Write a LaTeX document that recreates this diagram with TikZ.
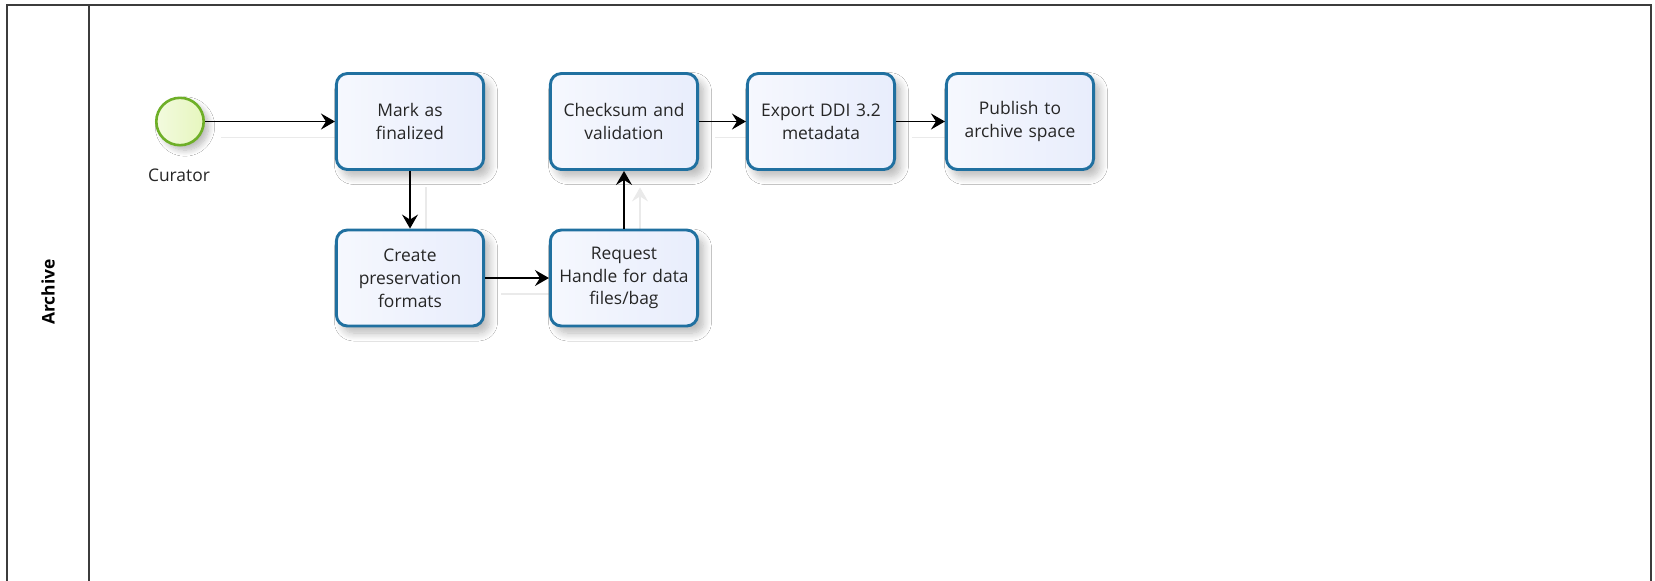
\documentclass[tikz,border=0pt]{standalone}
\usepackage{fontspec}
\setmainfont{Open Sans}
\usetikzlibrary{arrows.meta,shadows.blur}

\definecolor{taskline}{RGB}{32,112,160}
\definecolor{taskfill}{RGB}{232,237,252}
\definecolor{startline}{RGB}{110,175,40}
\definecolor{startfill}{RGB}{230,246,190}
\definecolor{poolline}{RGB}{60,60,60}
\definecolor{ghost}{RGB}{234,234,234}

\begin{document}
\begin{tikzpicture}[x=0.5pt,y=-0.5pt,
  label/.style={font=\fontsize{8.7}{11.4}\selectfont, text=black!85},
  task/.style={label, rectangle, rounded corners=5.5pt, draw=taskline,
    line width=1.45pt, minimum width=73.6pt, minimum height=48pt,
    align=center, text width=70pt, inner sep=0pt,
    left color=white!60!taskfill, right color=taskfill,
    blur shadow={shadow xshift=3pt, shadow yshift=-3.5pt,
      shadow blur radius=4pt, shadow blur steps=10, shadow opacity=28}},
  startevent/.style={circle, draw=startline, line width=1.3pt,
    minimum size=23.7pt, inner sep=0pt,
    left color=white!50!startfill, right color=startfill,
    blur shadow={shadow xshift=2.5pt, shadow yshift=-2.5pt,
      shadow blur radius=3pt, shadow blur steps=10, shadow opacity=28}},
  frame/.style={minimum width=75pt, minimum height=49.5pt, inner sep=0pt},
  flowtip/.style={-{Stealth[length=7pt,width=8pt,inset=2.5pt]}},
  flow/.style={flowtip, draw=black, line width=0.8pt},
  ghostflow/.style={flowtip, draw=ghost, line width=0.8pt,
    transform canvas={shift={(8pt,-8pt)}}},
  pool/.style={draw=poolline, line width=1pt}
]
\useasboundingbox (0,0) rectangle (1655,580);
\fill[white] (0,0) rectangle (1655,580);

% pool and lane
\draw[pool] (7,600) -- (7,5) -- (1651,5) -- (1651,600);
\draw[pool] (89,5) -- (89,600);
\node[rotate=90, font=\bfseries\fontsize{8.7}{10}\selectfont] (lane) at (48,292) {Archive};

% positions of the flow objects
\coordinate (pStart)    at (180,121.5);
\coordinate (pMark)     at (410,121.5);
\coordinate (pCreate)   at (410,278);
\coordinate (pCheck)    at (624,121.5);
\coordinate (pRequest)  at (624,278);
\coordinate (pExport)   at (821,121.5);
\coordinate (pPublish)  at (1020,121.5);

% faint shadows of the sequence flows
\path (pStart) node[circle, minimum size=25pt, inner sep=0pt] (gStart) {}
      (pMark) node[frame] (gMark) {}
      (pCreate) node[frame] (gCreate) {}
      (pCheck) node[frame] (gCheck) {}
      (pRequest) node[frame] (gRequest) {}
      (pExport) node[frame] (gExport) {}
      (pPublish) node[frame] (gPublish) {};
\draw[ghostflow] (gStart) -- (gMark);
\draw[ghostflow] (gMark) -- (gCreate);
\draw[ghostflow] (gCreate) -- (gRequest);
\draw[ghostflow] (gRequest) -- (gCheck);
\draw[ghostflow] (gCheck) -- (gExport);
\draw[ghostflow] (gExport) -- (gPublish);

% start event
\node[startevent] (start) at (pStart) {};
\node[label] (curator) at (179,175) {Curator};

% tasks
\node[task] (mark)    at (pMark)    {Mark as\\finalized};
\node[task] (create)  at (pCreate)  {Create\\preservation\\formats};
\node[task] (check)   at (pCheck)   {Checksum and\\validation};
\node[task] (request) at (pRequest) {Request\\Handle for data\\files/bag};
\node[task] (export)  at (pExport)  {Export DDI 3.2\\metadata};
\node[task] (publish) at (pPublish) {Publish to\\archive space};

% sequence flows
\draw[flow] (start) -- (mark);
\draw[flow] (mark) -- (create);
\draw[flow] (create) -- (request);
\draw[flow] (request) -- (check);
\draw[flow] (check) -- (export);
\draw[flow] (export) -- (publish);
\end{tikzpicture}
\end{document}
